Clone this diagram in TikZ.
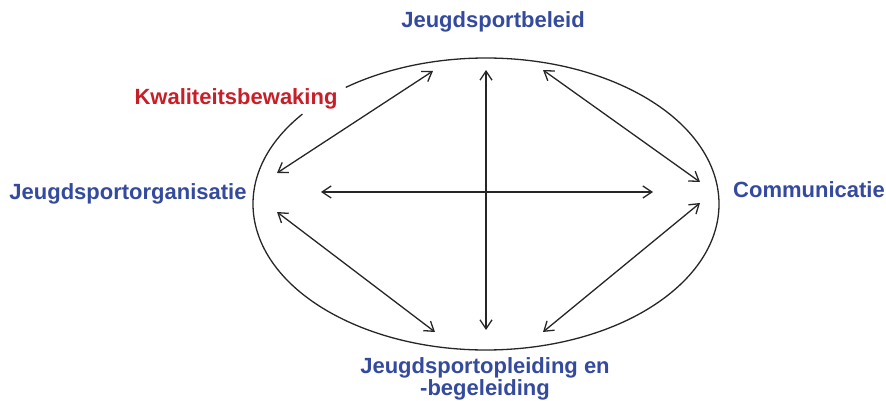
\documentclass[tikz,border=0pt]{standalone}
\usepackage{fontspec}
\setmainfont{Liberation Sans}
\usetikzlibrary{arrows.meta}
\definecolor{lblblue}{RGB}{52,74,158}
\definecolor{lblred}{RGB}{200,30,40}
\tikzset{
  lbl/.style={font=\fontsize{22}{23}\selectfont\bfseries, text=lblblue, inner sep=0pt, align=center},
  redlbl/.style={lbl, text=lblred},
  link/.style={draw=black!85, line width=1.3pt, {Straight Barb[length=9pt,width=12pt]}-{Straight Barb[length=9pt,width=12pt]}},
  ring/.style={draw=black!85, line width=1.3pt}
}
\begin{document}
\begin{tikzpicture}[x=1pt,y=1pt]
\useasboundingbox (0,0) rectangle (886,401);
% ellipse with a gap at upper left
\coordinate (c) at (486,197);
\draw[ring] (c) ++(142:233 and 146) arc[start angle=142,end angle=487,x radius=233,y radius=146];
% labels
\node[lbl] (beleid) at (493,379) {Jeugdsportbeleid};
\node[redlbl] (kwal) at (236,302) {Kwaliteitsbewaking};
\node[lbl] (org) at (128,207) {Jeugdsportorganisatie};
\node[lbl] (comm) at (809,211) {Communicatie};
\node[lbl, font=\fontsize{22}{22}\selectfont\bfseries] (opl) at (485,22) {Jeugdsportopleiding en\\-begeleiding};
% arrow end points
\coordinate (vt) at (486,331);
\coordinate (vb) at (486,71);
\coordinate (hl) at (321,209);
\coordinate (hr) at (653,209);
\coordinate (tl1) at (433,330);
\coordinate (tl2) at (277,228);
\coordinate (tr1) at (543,331);
\coordinate (tr2) at (700,219);
\coordinate (bl1) at (277,189);
\coordinate (bl2) at (435,69);
\coordinate (br1) at (700,198);
\coordinate (br2) at (543,69);
\draw[link] (vt) -- (vb);
\draw[link] (hl) -- (hr);
\draw[link] (tl1) -- (tl2);
\draw[link] (tr1) -- (tr2);
\draw[link] (bl1) -- (bl2);
\draw[link] (br1) -- (br2);
\end{tikzpicture}
\end{document}
